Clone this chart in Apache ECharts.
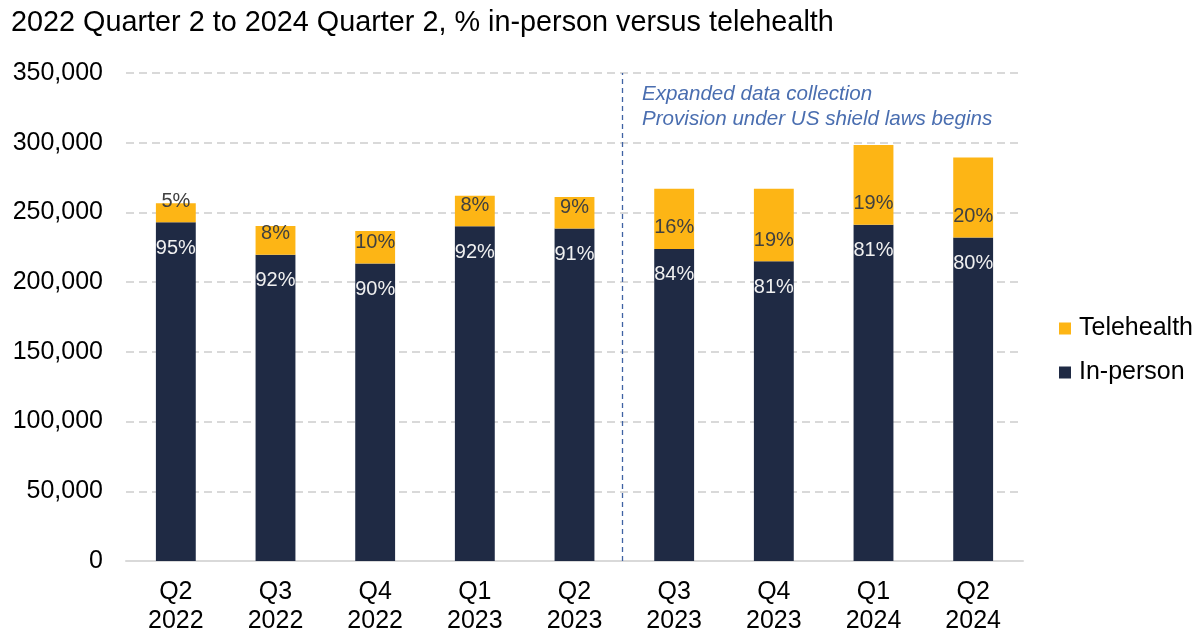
<!DOCTYPE html>
<html>
<head>
<meta charset="utf-8">
<script src="https://cdn.jsdelivr.net/npm/echarts@6/dist/echarts.min.js"></script>
<style>
html,body{margin:0;padding:0;background:#fff;}
#chart{width:1201px;height:638px;}
</style>
</head>
<body>
<div id="chart"></div>
<script>
var categories = ['Q2\n2022','Q3\n2022','Q4\n2022','Q1\n2023','Q2\n2023','Q3\n2023','Q4\n2023','Q1\n2024','Q2\n2024'];
var inPerson = [243000, 219700, 213300, 240100, 238500, 223800, 215000, 241100, 232000];
var telehealth = [13500, 20600, 23400, 21900, 22500, 43200, 51900, 57200, 57400];
var inPersonPct = ['95%','92%','90%','92%','91%','84%','81%','81%','80%'];
var telehealthPct = ['5%','8%','10%','8%','9%','16%','19%','19%','20%'];
var yTicks = {min: 0, max: 350000, interval: 50000};
var dividerPosition = 4.48;
var annotationLines = ['Expanded data collection', 'Provision under US shield laws begins'];

var FONT = '"Liberation Sans", Arial, sans-serif';
var chart = echarts.init(document.getElementById('chart'));
chart.setOption({
  animation: false,
  backgroundColor: '#ffffff',
  title: {
    text: '2022 Quarter 2 to 2024 Quarter 2, % in-person versus telehealth',
    left: 6, top: 4,
    textStyle: {fontFamily: FONT, fontSize: 28.8, fontWeight: 'normal', color: '#000'}
  },
  legend: {
    orient: 'vertical',
    left: 1054, top: 311,
    itemWidth: 12, itemHeight: 12, itemGap: 19,
    icon: 'rect',
    data: ['Telehealth', 'In-person'],
    textStyle: {fontFamily: FONT, fontSize: 25, color: '#000', padding: [0,0,0,3]}
  },
  grid: {left: 126, right: 178, top: 73, bottom: 77, containLabel: false},
  xAxis: [{
    type: 'category',
    data: categories,
    axisLine: {lineStyle: {color: '#d9d9d9', width: 2}},
    axisTick: {show: false},
    axisLabel: {fontFamily: FONT, fontSize: 25, color: '#000', lineHeight: 29, margin: 17}
  }, {
    type: 'value', min: -0.5, max: 8.5, show: false
  }],
  yAxis: {
    type: 'value',
    min: yTicks.min, max: yTicks.max, interval: yTicks.interval,
    axisLine: {show: false},
    axisTick: {show: false},
    splitLine: {lineStyle: {color: '#d9d9d9', width: 2, type: [8, 5]}},
    axisLabel: {
      fontFamily: FONT, fontSize: 25, color: '#000', margin: 23,
      formatter: function (v) { return v.toLocaleString('en-US'); }
    }
  },
  series: [{
    name: 'In-person',
    type: 'bar',
    stack: 'total',
    barWidth: '40%',
    data: inPerson,
    itemStyle: {color: '#1F2A44'},
    label: {
      show: true, position: 'insideTop', distance: 16,
      fontFamily: FONT, fontSize: 20, color: '#f0f0f0',
      formatter: function (p) { return inPersonPct[p.dataIndex]; }
    }
  }, {
    name: 'Telehealth',
    type: 'bar',
    stack: 'total',
    data: telehealth,
    itemStyle: {color: '#FDB515'},
    label: {
      show: true, position: 'insideBottom', distance: 11,
      fontFamily: FONT, fontSize: 20, color: '#404040',
      formatter: function (p) { return telehealthPct[p.dataIndex]; }
    }
  }, {
    name: 'divider',
    type: 'line',
    xAxisIndex: 1,
    data: [],
    silent: true,
    markLine: {
      symbol: ['none', 'none'],
      silent: true,
      label: {show: false},
      lineStyle: {color: '#3f62a3', width: 1.3, type: [5, 4]},
      data: [{xAxis: dividerPosition}]
    }
  }],
  graphic: [{
    type: 'text',
    left: 642, top: 82,
    style: {
      text: annotationLines.join('\n'),
      font: 'italic 20.6px ' + FONT,
      lineHeight: 25,
      fill: '#4a6eb0'
    }
  }]
});
</script>
</body>
</html>
